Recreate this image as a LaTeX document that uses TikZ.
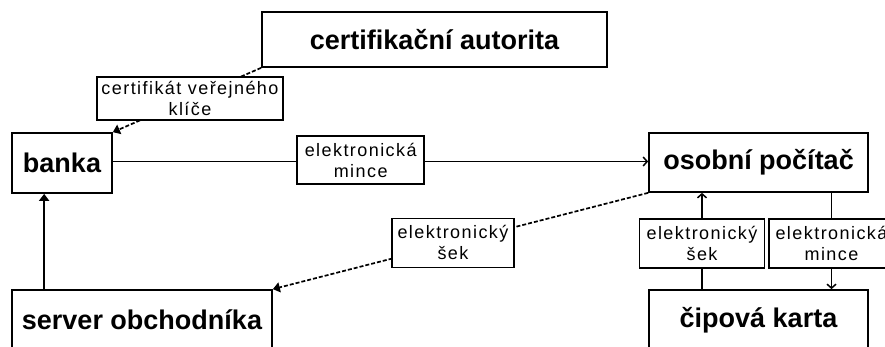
\documentclass[tikz,border=0pt]{standalone}
\usepackage{fontspec}
\setmainfont{Liberation Sans}
\newfontfamily\lblfont[LetterSpace=8]{Liberation Sans}
\usepackage{tikz}
\usetikzlibrary{arrows.meta,positioning,calc,backgrounds}
\tikzset{
  pay/box/.style={draw, line width=1.7pt, inner sep=0pt, align=center, minimum height=60pt,
    font=\fontsize{27}{30}\selectfont\bfseries},
  pay/label/.style={draw, line width=1.7pt, fill=white, inner sep=0pt, align=center,
    minimum width=125pt, minimum height=49pt, font=\lblfont\fontsize{18}{21}\selectfont},
  pay/line/.style={line width=1.7pt},
  pay/dash/.style={pay/line, dash pattern=on 4pt off 2pt},
  pay/fill/.style={-{Triangle[length=7pt,width=10pt]}},
  pay/open/.style={-{Straight Barb[length=4pt,width=9pt,line width=1.5pt]}}
}

\begin{document}
\begin{tikzpicture}[x=1pt,y=-1pt]
  \useasboundingbox (0,0) rectangle (885,347);
  \clip (0,0) rectangle (885,347);

  \node[pay/box, minimum width=345pt, minimum height=55pt] (ca) at (434.5,39.5) {certifikační autorita};
  \node[pay/box, minimum width=100pt] (banka) at (62,163) {banka};
  \node[pay/box, minimum width=219pt, minimum height=59pt] (pc) at (758.5,162.5) {osobní počítač};
  \node[pay/box, minimum width=260pt] (server) at (142,320) {server obchodníka};
  \node[pay/box, minimum width=219pt] (karta) at (758.5,320) {čipová karta};

  % popisky na spojnicich
  \node[pay/label, minimum width=186pt, minimum height=43pt] (cert)
    at ($(ca.south west)!0.48!(banka.north east)$) {certifikát veřejného\\klíče};
  \node[pay/label, minimum width=127pt, minimum height=48pt] (mince1)
    at ([yshift=3pt]$(banka.east)!0.463!(banka.east -| pc.west)$) {elektronická\\mince};
  \node[pay/label, minimum width=122pt] (sek1)
    at ($(pc.south west)!0.52!(server.north east)$) {elektronický\\šek};
  \node[pay/label] (sek2) at (702,243.5) {elektronický\\šek};
  \node[pay/label] (mince2) at (831.5,243.5) {elektronická\\mince};

  \begin{scope}[on background layer]
    \draw[pay/dash, pay/fill] (ca.south west) -- (banka.north east);
    \draw[pay/line, pay/open] ([yshift=1.5pt]banka.east) -- ([yshift=1.5pt]banka.east -| pc.west);
    \draw[pay/dash, pay/fill] (pc.south west) -- (server.north east);
    \draw[pay/line, pay/fill] ([xshift=33pt]server.north west) -- ([xshift=33pt]server.north west |- banka.south);
    \draw[pay/line, pay/open] (karta.north -| sek2) -- (pc.south -| sek2);
    \draw[pay/line, pay/open] (pc.south -| mince2) -- (karta.north -| mince2);
  \end{scope}
\end{tikzpicture}
\end{document}
